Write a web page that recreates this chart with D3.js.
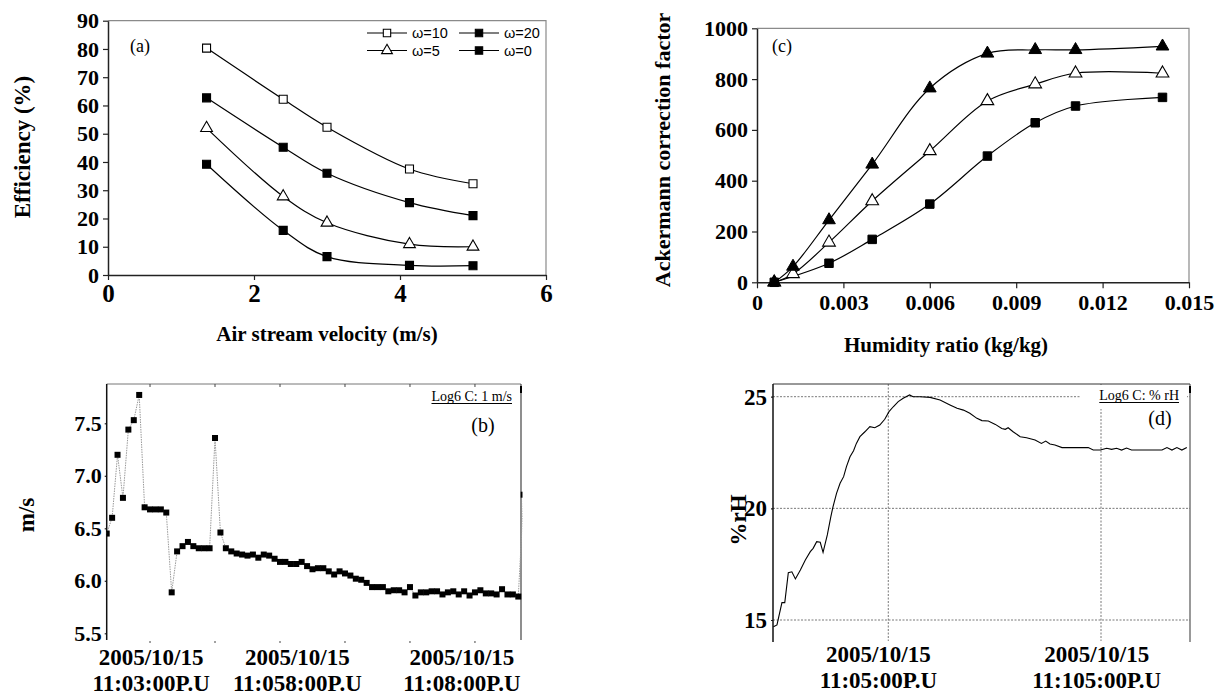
<!DOCTYPE html>
<html><head><meta charset="utf-8">
<script src="https://cdn.jsdelivr.net/npm/d3@7"></script>
<style>
body{margin:0;background:#fff;}
svg{display:block;}
text{font-family:"Liberation Serif","Times New Roman",serif;}
</style></head><body>
<svg id="chart" width="1223" height="695"></svg>
<script>
// ---------- Panel (a) data ----------
const aVelocity = [1.35, 2.4, 3.0, 4.13, 5.0];
const aW10 = [80.3, 62.2, 52.3, 37.5, 32.3];
const aW20 = [62.7, 45.2, 36.0, 25.6, 21.0];
const aW5  = [52.0, 27.8, 18.5, 10.9, 10.0];
const aW0  = [39.2, 15.8, 6.5, 3.4, 3.3];
const aYTicks = [0,10,20,30,40,50,60,70,80,90];
const aXTicks = [0,2,4,6];
const aLegend = ["ω=10","ω=20","ω=5","ω=0"];

// ---------- Panel (c) data ----------
const cHumidity = [0.0006, 0.00125, 0.0025, 0.004, 0.006, 0.008, 0.00966, 0.01106, 0.01408];
const cFilledTri = [0, 62, 245, 464, 764, 901, 915, 915, 929];
const cOpenTri   = [0, 33, 157, 320, 517, 714, 780, 823, 823];
const cHumiditySq = [0.0006, 0.0025, 0.004, 0.006, 0.008, 0.00966, 0.01106, 0.01408];
const cSquare    = [0, 75, 169, 308, 497, 628, 694, 728];
const cYTicks = [0,200,400,600,800,1000];
const cXTicks = [0,0.003,0.006,0.009,0.012,0.015];

// ---------- Panel (b) data (seconds after 11:00:00, one sample every 5 s) ----------
const bStartSec = 140, bStepSec = 5;
const bSpeed = [6.45,6.60,7.20,6.79,7.44,7.53,7.77,6.70,6.68,6.68,6.68,6.65,5.89,6.28,6.33,6.37,6.33,6.31,6.31,6.31,
  7.36,6.46,6.31,6.28,6.26,6.25,6.24,6.25,6.22,6.25,6.24,6.21,6.18,6.18,6.16,6.16,6.18,6.14,6.11,6.12,
  6.12,6.09,6.06,6.09,6.07,6.05,6.02,6.01,5.98,5.94,5.94,5.94,5.90,5.91,5.91,5.89,5.94,5.86,5.89,5.89,
  5.90,5.90,5.87,5.89,5.90,5.87,5.90,5.86,5.89,5.91,5.88,5.88,5.87,5.92,5.87,5.87,5.85,6.82];
const bYTicks = [5.5,6.0,6.5,7.0,7.5];
const bMinuteTicks = [180,240,300,360,420,480];
const bTickAt = [181, 316, 468];
const bTickLabels = [["2005/10/15","11:03:00P.U"],["2005/10/15","11:058:00P.U"],["2005/10/15","11:08:00P.U"]];

// ---------- Panel (d) data (seconds after 11:00:00) ----------
const dTime = [138,143,150,154,159,164,169,176,183,190,194,199,204,208,214,219,222,227,232,237,
  241,246,251,255,260,267,274,281,288,295,301,307,314,321,330,335,345,359,373,387,
  397,406,415,425,432,441,451,460,465,469,476,486,495,507,516,522,528,535,545,556,
  582,589,599,608,615,622,629,636,643,674,686,693,700,707,714,721];
const dRH = [14.70,14.78,15.78,15.78,17.12,17.16,16.84,17.24,17.69,18.06,18.21,18.51,18.48,18.03,18.81,19.63,20.07,20.67,21.12,21.42,
  21.87,22.31,22.58,22.91,23.21,23.43,23.66,23.61,23.73,23.99,24.33,24.55,24.78,24.93,25.08,25.00,25.00,24.97,24.85,24.63,
  24.48,24.40,24.26,24.03,23.93,23.91,23.76,23.58,23.54,23.61,23.43,23.21,23.16,23.06,22.91,23.01,22.88,22.84,22.72,22.72,
  22.72,22.61,22.61,22.69,22.64,22.69,22.61,22.70,22.61,22.61,22.61,22.72,22.61,22.72,22.61,22.72];
const dYTicks = [15,20,25];
const dGridTimes = [300,600];
const dTickAt = [286, 594];
const dTickLabels = [["2005/10/15","11:05:00P.U"],["2005/10/15","11:105:00P.U"]];

const SERIF = '"Liberation Serif","Times New Roman",serif';
const svg = d3.select("#chart");
svg.append("rect").attr("width",1223).attr("height",695).attr("fill","#fff");

function styleAxis(g, fs){
  g.attr("font-family",SERIF).attr("font-size",fs).attr("font-weight","bold");
  g.select(".domain").attr("stroke","#222").attr("stroke-width",1.5);
  g.selectAll(".tick line").attr("stroke","#222").attr("stroke-width",1.2);
  g.selectAll(".tick text").attr("fill","#000")
    .attr("font-size",fs).attr("font-weight","bold").attr("font-family",SERIF)
    .style("font-size",fs+"px").style("font-weight","700");
}
function sym(type, size){ return d3.symbol().type(type).size(size)(); }
function boldText(sel, fs){ return sel.style("font-size",fs+"px").style("font-weight","700"); }

// =================== Panel (a) ===================
{
  const x = d3.scaleLinear().domain([0,6]).range([108,546]);
  const y = d3.scaleLinear().domain([0,90]).range([275,20.7]);
  const g = svg.append("g");
  g.append("path").attr("d",`M${x(0)},${y(90)}H${x(6)}V${y(0)}`).attr("fill","none").attr("stroke","#8a8a8a").attr("stroke-width",1.2);
  const ax = g.append("g").attr("transform",`translate(${x(0)},0)`)
    .call(d3.axisLeft(y).tickValues(aYTicks).tickFormat(d3.format("d")).tickSize(5).tickPadding(4).tickSizeOuter(0));
  styleAxis(ax,22);
  const bx = g.append("g").attr("transform",`translate(0,${y(0)})`)
    .call(d3.axisBottom(x).tickValues(aXTicks).tickFormat(d3.format("d")).tickSize(5).tickPadding(4).tickSizeOuter(0));
  styleAxis(bx,25);
  const line = d3.line().x((d,i)=>x(aVelocity[i])).y(d=>y(d)).curve(d3.curveCatmullRom.alpha(0.5));
  const series = [
    {v:aW10, shape:d3.symbolSquare, fill:"#fff", size:64},
    {v:aW20, shape:d3.symbolSquare, fill:"#000", size:64},
    {v:aW5,  shape:d3.symbolTriangle, fill:"#fff", size:60},
    {v:aW0,  shape:d3.symbolSquare, fill:"#000", size:64}
  ];
  series.forEach(s=>{
    g.append("path").attr("d",line(s.v)).attr("fill","none").attr("stroke","#000").attr("stroke-width",1.2);
  });
  series.forEach(s=>{
    g.selectAll(null).data(s.v).enter().append("path")
      .attr("d",sym(s.shape,s.size))
      .attr("transform",(d,i)=>`translate(${x(aVelocity[i])},${y(d)})`)
      .attr("fill",s.fill).attr("stroke","#000").attr("stroke-width",1.1);
  });
  // legend
  const leg = [
    {t:aLegend[0], s:series[0], lx:367, ly:33},
    {t:aLegend[1], s:series[1], lx:459, ly:33},
    {t:aLegend[2], s:series[2], lx:367, ly:50.5},
    {t:aLegend[3], s:series[3], lx:459, ly:50.5}
  ];
  leg.forEach(l=>{
    g.append("line").attr("x1",l.lx).attr("x2",l.lx+40).attr("y1",l.ly).attr("y2",l.ly).attr("stroke","#000").attr("stroke-width",1.1);
    g.append("path").attr("d",sym(l.s.shape, l.s.size*0.85)).attr("transform",`translate(${l.lx+20},${l.ly})`)
      .attr("fill",l.s.fill).attr("stroke","#000").attr("stroke-width",1.1);
    g.append("text").attr("x",l.lx+45).attr("y",l.ly+5).text(l.t)
      .style("font-family",'"Liberation Sans",Arial,sans-serif').style("font-size","14.5px");
  });
  g.append("text").attr("x",130).attr("y",52).text("(a)").style("font-size","18px");
  boldText(g.append("text").attr("transform","translate(30,147) rotate(-90)").attr("text-anchor","middle")
    .text("Efficiency (%)"),23);
  boldText(g.append("text").attr("x",327).attr("y",341).attr("text-anchor","middle")
    .text("Air stream velocity (m/s)"),21);
}

// =================== Panel (c) ===================
{
  const x = d3.scaleLinear().domain([0,0.015]).range([757,1189]);
  const y = d3.scaleLinear().domain([0,1000]).range([282.3,28.3]);
  const g = svg.append("g");
  g.append("path").attr("d",`M${x(0)},${y(1000)}H${x(0.015)}V${y(0)}`).attr("fill","none").attr("stroke","#8a8a8a").attr("stroke-width",1.2);
  const ax = g.append("g").attr("transform",`translate(${x(0)},0)`)
    .call(d3.axisLeft(y).tickValues(cYTicks).tickFormat(d3.format("d")).tickSize(5).tickPadding(4).tickSizeOuter(0));
  styleAxis(ax,22);
  const bx = g.append("g").attr("transform",`translate(0,${y(0)})`)
    .call(d3.axisBottom(x).tickValues(cXTicks).tickFormat(d=>d===0?"0":d3.format(".3f")(d)).tickSize(6).tickPadding(6).tickSizeOuter(0));
  styleAxis(bx,22);
  const curve = d3.curveCatmullRom.alpha(0.5);
  const lineT = d3.line().x((d,i)=>x(cHumidity[i])).y(d=>y(d)).curve(curve);
  const lineS = d3.line().x((d,i)=>x(cHumiditySq[i])).y(d=>y(d)).curve(curve);
  g.append("path").attr("d",lineS(cSquare)).attr("fill","none").attr("stroke","#000").attr("stroke-width",1.2);
  g.append("path").attr("d",lineT(cOpenTri)).attr("fill","none").attr("stroke","#000").attr("stroke-width",1.2);
  g.append("path").attr("d",lineT(cFilledTri)).attr("fill","none").attr("stroke","#000").attr("stroke-width",1.2);
  g.selectAll(null).data(cSquare).enter().append("path").attr("d",sym(d3.symbolSquare,72))
    .attr("transform",(d,i)=>`translate(${x(cHumiditySq[i])},${y(d)})`).attr("fill","#000").attr("stroke","#000");
  g.selectAll(null).data(cOpenTri).enter().append("path").attr("d",sym(d3.symbolTriangle,70))
    .attr("transform",(d,i)=>`translate(${x(cHumidity[i])},${y(d)})`).attr("fill","#fff").attr("stroke","#000").attr("stroke-width",1.1);
  g.selectAll(null).data(cFilledTri).enter().append("path").attr("d",sym(d3.symbolTriangle,70))
    .attr("transform",(d,i)=>`translate(${x(cHumidity[i])},${y(d)})`).attr("fill","#000").attr("stroke","#000");
  g.append("text").attr("x",772).attr("y",52).text("(c)").style("font-size","18px");
  boldText(g.append("text").attr("transform","translate(670,150) rotate(-90)").attr("text-anchor","middle")
    .text("Ackermann correction factor"),22);
  boldText(g.append("text").attr("x",946).attr("y",352).attr("text-anchor","middle")
    .text("Humidity ratio (kg/kg)"),21);
}

// =================== Panel (b) ===================
{
  const x = d3.scaleLinear().domain([140,522.5]).range([106.7,521]);
  const y = d3.scaleLinear().domain([5.5,7.5]).range([633.3,423.3]);
  const top = 384, bot = 640;
  const g = svg.append("g");
  g.append("clipPath").attr("id","clipB").append("rect").attr("x",106.7).attr("y",top).attr("width",521-106.7+1.5).attr("height",bot-top);
  g.append("line").attr("x1",106.7).attr("x2",521).attr("y1",top).attr("y2",top).attr("stroke","#777").attr("stroke-width",1);
  g.append("line").attr("x1",521).attr("x2",521).attr("y1",top).attr("y2",bot).attr("stroke","#444").attr("stroke-width",1.2);
  g.selectAll(null).data(bMinuteTicks).enter().append("line")
    .attr("x1",d=>x(d)).attr("x2",d=>x(d)).attr("y1",top).attr("y2",top+3).attr("stroke","#444");
  g.selectAll(null).data(bMinuteTicks).enter().append("line")
    .attr("x1",d=>x(d)).attr("x2",d=>x(d)).attr("y1",bot+1).attr("y2",bot+3).attr("stroke","#444");
  g.append("line").attr("x1",521).attr("x2",521).attr("y1",top+2).attr("y2",top+9).attr("stroke","#000").attr("stroke-width",2);
  const ax = g.append("g").attr("transform",`translate(106.7,0)`)
    .call(d3.axisLeft(y).tickValues(bYTicks).tickFormat(d3.format(".1f")).tickSize(2).tickPadding(3).tickSizeOuter(0));
  ax.select(".domain").remove();
  styleAxis(ax,22);
  g.append("line").attr("x1",106.7).attr("x2",106.7).attr("y1",top).attr("y2",bot).attr("stroke","#111").attr("stroke-width",1.5);
  const pts = bSpeed.map((v,i)=>[bStartSec+bStepSec*i, v]);
  const pg = g.append("g").attr("clip-path","url(#clipB)");
  pg.append("path").attr("d",d3.line().x(d=>x(d[0])).y(d=>y(d[1]))(pts))
    .attr("fill","none").attr("stroke","#999").attr("stroke-width",1).attr("stroke-dasharray","1.5,1");
  pg.selectAll(null).data(pts).enter().append("rect")
    .attr("x",d=>x(d[0])-3).attr("y",d=>y(d[1])-3).attr("width",6).attr("height",6).attr("fill","#000");
  const lt = g.append("text").attr("x",512).attr("y",401).attr("text-anchor","end").text("Log6 C: 1 m/s").style("font-size","14px");
  const lw = lt.node().getComputedTextLength();
  g.append("line").attr("x1",512-lw).attr("x2",512).attr("y1",403.5).attr("y2",403.5).attr("stroke","#000").attr("stroke-width",1);
  g.append("text").attr("x",483).attr("y",432).attr("text-anchor","middle").text("(b)").style("font-size","20px");
  bTickAt.forEach((t,i)=>{
    boldText(g.append("text").attr("x",x(t)).attr("y",665).attr("text-anchor","middle").text(bTickLabels[i][0]),23);
    boldText(g.append("text").attr("x",x(t)).attr("y",691).attr("text-anchor","middle").text(bTickLabels[i][1]),23);
  });
  boldText(g.append("text").attr("transform","translate(34,515) rotate(-90)").attr("text-anchor","middle")
    .text("m/s"),23);
}

// =================== Panel (d) ===================
{
  const x = d3.scaleLinear().domain([137.4,725.5]).range([773,1190]);
  const y = d3.scaleLinear().domain([15,25]).range([620,396.7]);
  const top = 384, bot = 638;
  const g = svg.append("g");
  g.selectAll(null).data(dYTicks).enter().append("line")
    .attr("x1",773).attr("x2",1190).attr("y1",d=>y(d)).attr("y2",d=>y(d))
    .attr("stroke","#555").attr("stroke-width",0.8).attr("stroke-dasharray","2,1.5");
  g.selectAll(null).data(dGridTimes).enter().append("line")
    .attr("x1",d=>x(d)).attr("x2",d=>x(d)).attr("y1",top).attr("y2",bot+3)
    .attr("stroke","#555").attr("stroke-width",0.8).attr("stroke-dasharray","2,1.5");
  g.append("rect").attr("x",1080).attr("y",top+1).attr("width",107).attr("height",24).attr("fill","#fff");
  const lt = g.append("text").attr("x",1179).attr("y",400).attr("text-anchor","end").text("Log6 C: % rH").style("font-size","14px");
  const lw = lt.node().getComputedTextLength();
  g.append("line").attr("x1",1179-lw).attr("x2",1179).attr("y1",402.5).attr("y2",402.5).attr("stroke","#000").attr("stroke-width",1);
  g.append("text").attr("x",1160).attr("y",425).attr("text-anchor","middle").text("(d)").style("font-size","20px");
  g.append("line").attr("x1",773).attr("x2",1190).attr("y1",top).attr("y2",top).attr("stroke","#333").attr("stroke-width",1);
  g.append("line").attr("x1",1190).attr("x2",1190).attr("y1",top).attr("y2",bot+4).attr("stroke","#555").attr("stroke-width",1.2);
  g.append("line").attr("x1",1190).attr("x2",1190).attr("y1",top+2).attr("y2",top+9).attr("stroke","#000").attr("stroke-width",2);
  const ax = g.append("g").attr("transform",`translate(773,0)`)
    .call(d3.axisLeft(y).tickValues(dYTicks).tickFormat(d3.format("d")).tickSize(2).tickPadding(4).tickSizeOuter(0));
  ax.select(".domain").remove();
  styleAxis(ax,23);
  g.append("line").attr("x1",773).attr("x2",773).attr("y1",top).attr("y2",bot+4).attr("stroke","#111").attr("stroke-width",1.5);
  g.append("path").attr("d",d3.line().x((d,i)=>x(dTime[i])).y(d=>y(d))(dRH))
    .attr("fill","none").attr("stroke","#000").attr("stroke-width",1.1);
  dTickAt.forEach((t,i)=>{
    boldText(g.append("text").attr("x",x(t)).attr("y",662).attr("text-anchor","middle").text(dTickLabels[i][0]),23);
    boldText(g.append("text").attr("x",x(t)).attr("y",688).attr("text-anchor","middle").text(dTickLabels[i][1]),23);
  });
  boldText(g.append("text").attr("transform","translate(746,520) rotate(-90)").attr("text-anchor","middle")
    .text("%rH"),23);
}
</script>
</body></html>
